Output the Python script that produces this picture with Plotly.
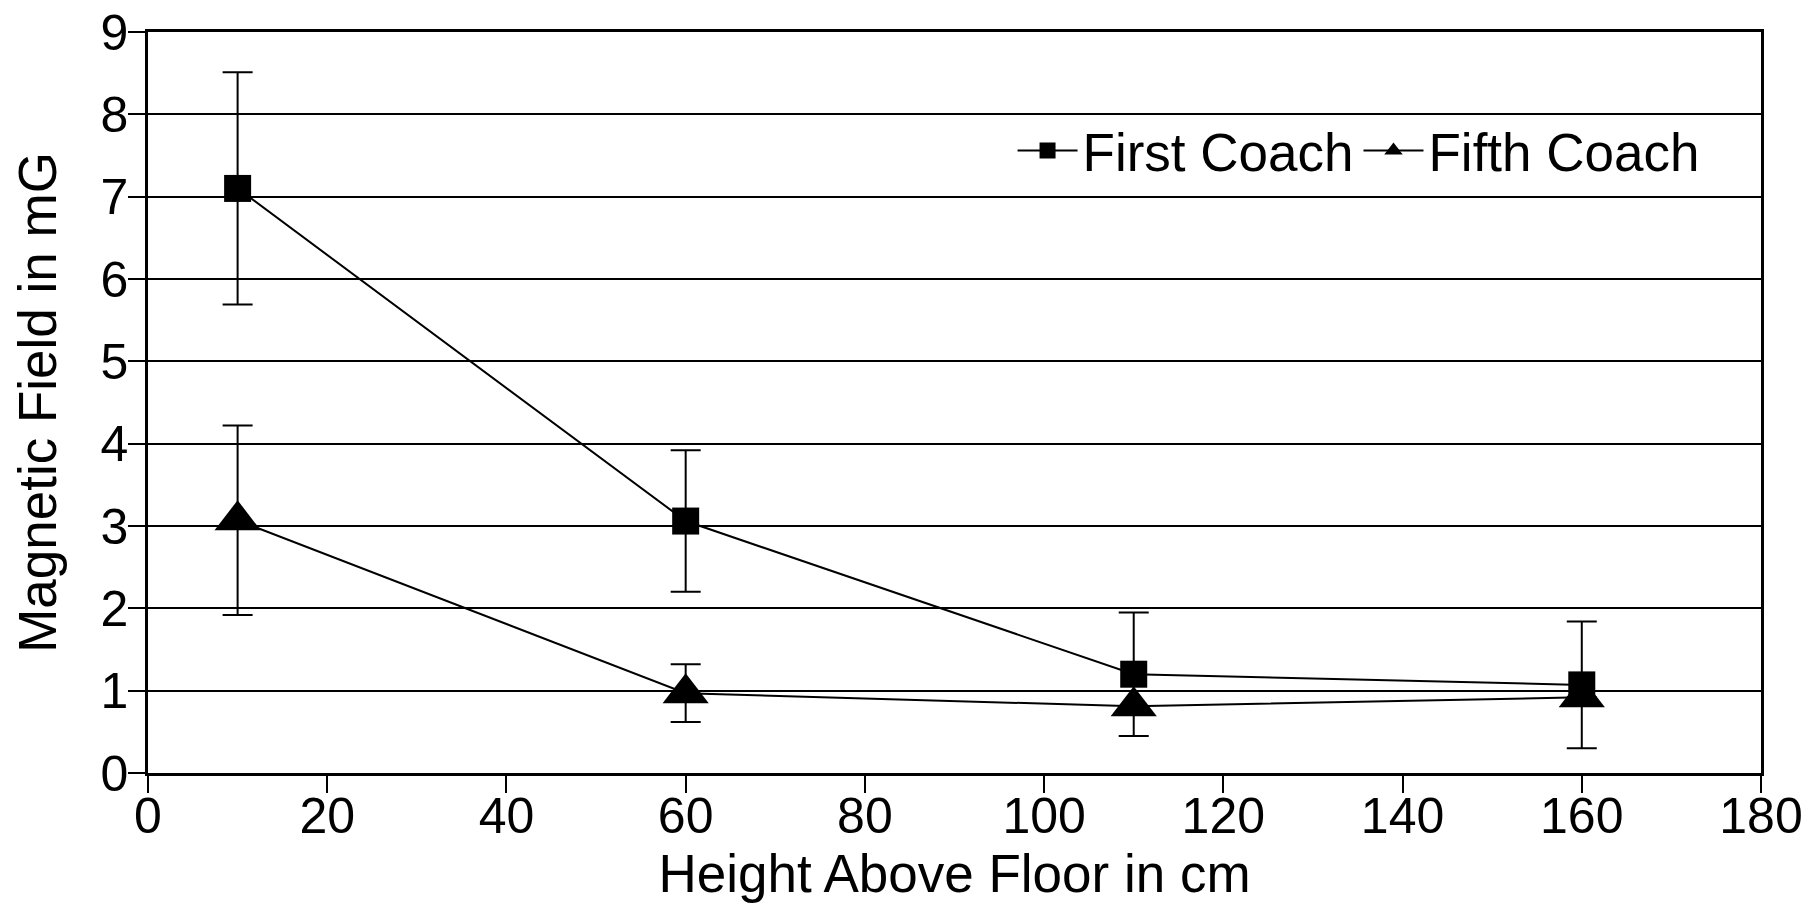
import plotly.graph_objects as go

heights = [10, 60, 110, 160]
first_coach = [7.1, 3.06, 1.2, 1.07]
first_err = [1.41, 0.86, 0.75, 0.77]
fifth_coach = [3.07, 0.97, 0.81, 0.92]
fifth_err = [1.15, 0.35, 0.0, 0.0]

FONT = "Liberation Sans, Arial, Helvetica, sans-serif"

fig = go.Figure()
fig.add_trace(go.Scatter(
    x=heights, y=first_coach, name="First Coach", mode="lines+markers",
    line=dict(color="black", width=2),
    marker=dict(symbol="square", size=27, color="black"),
    error_y=dict(type="data", array=first_err, visible=True, color="black",
                 thickness=2, width=15),
))
fig.add_trace(go.Scatter(
    x=heights, y=fifth_coach, name="Fifth Coach", mode="lines+markers",
    line=dict(color="black", width=2),
    marker=dict(symbol="triangle-up", size=40, color="black"),
    error_y=dict(type="data", array=fifth_err, visible=True, color="black",
                 thickness=2, width=15),
))

fig.update_layout(
    width=1812, height=906,
    margin=dict(l=140, r=59, t=24, b=141),
    paper_bgcolor="white", plot_bgcolor="white",
    font=dict(family=FONT, size=50, color="black"),
    legend=dict(orientation="h", x=0.965, xanchor="right", y=0.84, yanchor="middle",
                bgcolor="rgba(0,0,0,0)", font=dict(size=53), itemwidth=60,
                traceorder="normal"),
    xaxis=dict(range=[0, 180], tickvals=[0, 20, 40, 60, 80, 100, 120, 140, 160, 180],
               showgrid=False, zeroline=False, showline=True, linecolor="black",
               linewidth=2.5, mirror=True, ticks="outside", ticklen=17, tickwidth=2,
               tickcolor="black", automargin=False, tickfont=dict(size=50),
               ticklabelstandoff=-20, ticklabeloverflow="allow",
               title=dict(text="Height Above Floor in cm", standoff=2,
                          font=dict(size=53))),
    yaxis=dict(range=[0, 9], tickvals=list(range(10)),
               showgrid=True, gridcolor="black", gridwidth=1.5,
               zeroline=False, showline=True, linecolor="black",
               linewidth=2.5, mirror=True, ticks="outside", ticklen=17, tickwidth=2,
               tickcolor="black", automargin=False, tickfont=dict(size=50),
               ticklabelstandoff=-10, ticklabeloverflow="allow",
               title=dict(text="Magnetic Field in mG", standoff=30,
                          font=dict(size=53))),
)

fig.write_html("out.html")
